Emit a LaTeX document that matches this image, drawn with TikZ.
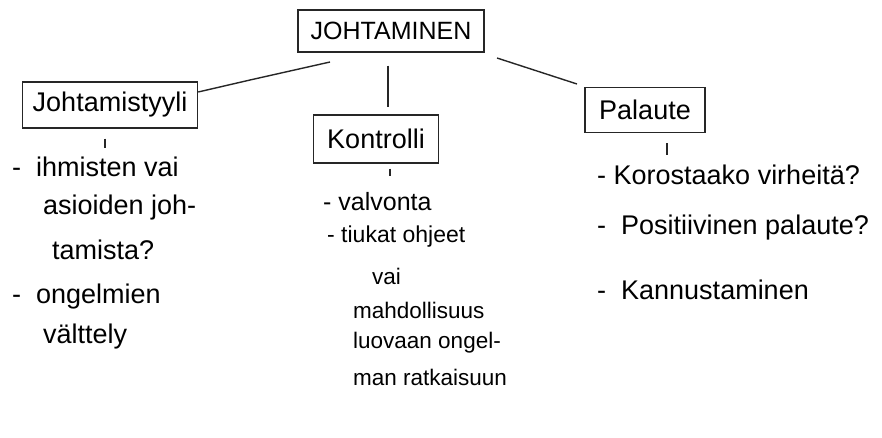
\documentclass[tikz,border=0pt]{standalone}
\usepackage{fontspec}
\setmainfont{Liberation Sans}
\begin{document}
\begin{tikzpicture}[x=1pt,y=-1pt,
  ink/.style={line width=1.4pt,draw=black!85},
  headbox/.style={ink,draw,minimum width=#1,inner sep=0pt,font=\fontsize{27}{29}\selectfont},
  item/.style={anchor=west,inner sep=0pt,font=\fontsize{27}{29}\selectfont},
  miditem/.style={anchor=west,inner sep=0pt,font=\fontsize{22.5}{24}\selectfont}]
\useasboundingbox[fill=white] (0,0) rectangle (882,437);
% boxes
\node[headbox=186,minimum height=42,font=\fontsize{25}{27}\selectfont] (top) at (391,31) {JOHTAMINEN};
\node[headbox=175,minimum height=46] (tyyli) at (110,105) {Johtamistyyli};
\node[headbox=125,minimum height=48] (kontrolli) at (376,139) {Kontrolli};
\node[headbox=120,minimum height=45] (palaute) at (645,110) {Palaute};
% left items
\node[item] (l1) at (12,167) {-\ \ ihmisten vai};
\node[item] (l2) at (43,208) {asioiden joh-};
\node[item] (l3) at (52,250) {tamista?};
\node[item] (l4) at (12,297) {-\ \ ongelmien};
\node[item] (l5) at (43,337) {välttely};
% middle items
\node[miditem,font=\fontsize{25}{27}\selectfont] (m1) at (323,202) {- valvonta};
\node[miditem,font=\fontsize{23}{25}\selectfont] (m2) at (327,237) {-\ tiukat ohjeet};
\node[miditem] (m3) at (372,276) {vai};
\node[miditem] (m4) at (353,310) {mahdollisuus};
\node[miditem] (m5) at (353,343) {luovaan ongel-};
\node[miditem] (m6) at (353,377) {man ratkaisuun};
% right items
\node[item] (r1) at (597,175) {- Korostaako virheitä?};
\node[item] (r2) at (597,228) {-\ \ Positiivinen palaute?};
\node[item] (r3) at (597,290) {-\ \ Kannustaminen};
% connectors
\coordinate (tl) at (330,62);
\coordinate (tr) at (497,58);
\coordinate (pr) at (577,84);
\coordinate (kc) at (388,0);
\draw[ink] (tyyli.east |- 0,92) -- (250,80) -- (tl);
\draw[ink] (tr) -- (pr);
\draw[ink,shorten <=13pt,shorten >=7pt] (top.south -| kc) -- (kontrolli.north -| kc);
% small ticks
\draw[ink,shorten <=10pt,shorten >=-19pt] (tyyli.south -| 105,0) -- ++(0,0.01);
\draw[ink,shorten <=5pt,shorten >=-12pt] (kontrolli.south -| 390,0) -- ++(0,0.01);
\draw[ink,shorten <=10pt,shorten >=-22pt] (palaute.south -| 667,0) -- ++(0,0.01);
\end{tikzpicture}
\end{document}
